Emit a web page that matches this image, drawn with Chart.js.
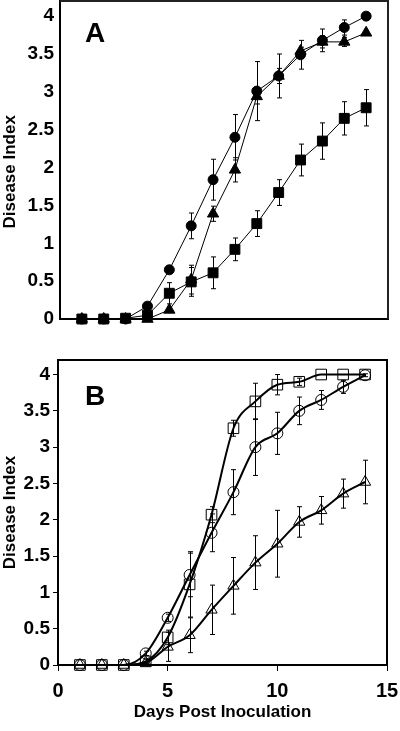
<!DOCTYPE html>
<html>
<head>
<meta charset="utf-8">
<script src="https://cdn.jsdelivr.net/npm/chart.js@4.4.1/dist/chart.umd.min.js"></script>
<style>
  html, body { margin: 0; padding: 0; background: #fff; }
  #wrapA { position: absolute; left: 0; top: 0; width: 400px; height: 340px; }
  #wrapB { position: absolute; left: 0; top: 340px; width: 400px; height: 391px; }
</style>
</head>
<body>
<div id="wrapA"><canvas id="chartA" width="400" height="340"></canvas></div>
<div id="wrapB"><canvas id="chartB" width="400" height="391"></canvas></div>
<script>
// Days post inoculation
const days = [1, 2, 3, 4, 5, 6, 7, 8, 9, 10, 11, 12, 13, 14];

// Panel A (filled symbols)
const aCircle      = [0, 0, 0, 0.17, 0.65, 1.23, 1.84, 2.40, 3.01, 3.21, 3.49, 3.68, 3.85, 4.00];
const aCircleErr   = [0, 0, 0, 0.05, 0.05, 0.17, 0.27, 0.30, 0.39, 0.29, 0.19, 0.15, 0.10, 0.03];
const aTriangle    = [0, 0, 0, 0, 0.12, 0.52, 1.39, 1.97, 2.94, 3.21, 3.54, 3.66, 3.66, 3.78];
const aTriangleErr = [0, 0, 0, 0, 0.03, 0.19, 0.10, 0.16, 0.10, 0.10, 0.05, 0.08, 0.06, 0.03];
const aSquare      = [0, 0, 0.01, 0.05, 0.34, 0.49, 0.61, 0.92, 1.26, 1.67, 2.10, 2.35, 2.65, 2.79];
const aSquareErr   = [0, 0, 0, 0.03, 0.14, 0.19, 0.21, 0.15, 0.17, 0.17, 0.21, 0.24, 0.22, 0.24];

// Panel B (open symbols)
const bSquare      = [0, 0, 0, 0.05, 0.38, 1.11, 2.07, 3.26, 3.63, 3.86, 3.90, 4.00, 4.00, 4.00];
const bSquareErr   = [0, 0, 0, 0.03, 0.10, 0.45, 0.11, 0.11, 0.25, 0.14, 0.05, 0, 0, 0];
const bCircle      = [0, 0, 0, 0.16, 0.65, 1.24, 1.82, 2.38, 3.00, 3.19, 3.50, 3.65, 3.83, 3.99];
const bCircleErr   = [0, 0, 0, 0.03, 0.05, 0.30, 0.26, 0.31, 0.39, 0.29, 0.19, 0.13, 0.09, 0.02];
const bTriangle    = [0, 0, 0, 0.03, 0.25, 0.41, 0.76, 1.09, 1.41, 1.67, 1.97, 2.13, 2.36, 2.52];
const bTriangleErr = [0, 0, 0, 0.02, 0.20, 0.24, 0.34, 0.39, 0.37, 0.46, 0.21, 0.19, 0.20, 0.30];

const xTicks = [0, 5, 10, 15];
const FONT = "'Liberation Sans', Arial, Helvetica, sans-serif";

Chart.defaults.font.family = FONT;
Chart.defaults.color = "#000";

const pts = arr => arr.map((v, i) => ({ x: days[i], y: v }));

// vertical error bars with small caps
const errorBars = {
    id: "errorBars",
    afterDatasetsDraw(chart){
        const { ctx, scales: { x, y } } = chart;
        ctx.save();
        ctx.strokeStyle = "#000";
        ctx.lineWidth = 1;
        chart.data.datasets.forEach(ds => {
            if(!ds.errors) return;
            ds.data.forEach((p, i) => {
                const e = ds.errors[i];
                if(!e) return;
                const px  = Math.round(x.getPixelForValue(p.x)) + 0.5;
                const top = y.getPixelForValue(p.y + e);
                const bot = y.getPixelForValue(p.y - e);
                ctx.beginPath();
                ctx.moveTo(px, top); ctx.lineTo(px, bot);
                ctx.moveTo(px - 2.5, top); ctx.lineTo(px + 2.5, top);
                ctx.moveTo(px - 2.5, bot); ctx.lineTo(px + 2.5, bot);
                ctx.stroke();
            });
        });
        ctx.restore();
    }
};

// top/right frame + panel letter
const frame = {
    id: "frame",
    afterDraw(chart, args, opts){
        const { ctx, chartArea: a } = chart;
        ctx.save();
        ctx.strokeStyle = opts.color || "#000";
        ctx.lineWidth = 2;
        ctx.beginPath();
        ctx.moveTo(a.left, a.top);
        ctx.lineTo(a.right, a.top);
        ctx.lineTo(a.right, a.bottom);
        ctx.stroke();
        ctx.fillStyle = "#000";
        ctx.font = `bold 28px ${FONT}`;
        ctx.textBaseline = "alphabetic";
        ctx.fillText(opts.letter, opts.lx, opts.ly);
        ctx.restore();
    }
};

function makeSet(data, errors, style, filled, width){
    return {
        data: pts(data),
        errors,
        borderColor: "#000",
        borderWidth: width,
        backgroundColor: filled ? "#000" : "rgba(0,0,0,0)",
        pointStyle: style.shape,
        pointRadius: style.r,
        pointBorderWidth: 1,
        pointBorderColor: "#000",
        pointBackgroundColor: filled ? "#000" : "rgba(0,0,0,0)",
        showLine: true,
        fill: false,
        clip: 8,
        tension: filled ? 0 : 0.2,
        cubicInterpolationMode: filled ? "default" : "monotone"
    };
}

const tickFont  = { size: 19, weight: "bold" };
const titleFont = { size: 17, weight: "bold" };

function yScale(width, tickLen, titleText){
    return {
        type: "linear",
        min: 0, max: 4.2,
        ticks: {
            stepSize: 0.5,
            includeBounds: false,
            font: tickFont,
            color: "#000",
            padding: tickLen ? 3 : 6,
            callback: v => String(v)
        },
        grid: { drawOnChartArea: false, drawTicks: tickLen > 0, tickLength: tickLen, color: "#000" },
        border: { display: true, color: "#000", width: 2 },
        title: { display: true, text: titleText, font: titleFont, color: "#000", padding: { top: 0, bottom: 0 } },
        afterFit(s){
            s.width = width;
            s.paddingTop = 0;
            s.paddingBottom = 0;
        }
    };
}

// Panel A
new Chart(document.getElementById("chartA"), {
    type: "scatter",
    data: {
        datasets: [
            makeSet(aSquare,   aSquareErr,   { shape: "rect",     r: 7   }, true, 1),
            makeSet(aTriangle, aTriangleErr, { shape: "triangle", r: 6.5 }, true, 1),
            makeSet(aCircle,   aCircleErr,   { shape: "circle",   r: 5   }, true, 1)
        ]
    },
    options: {
        responsive: false,
        animation: false,
        devicePixelRatio: 1,
        layout: { autoPadding: false, padding: { top: 1, right: 12, left: 0, bottom: 0 } },
        plugins: {
            legend: { display: false },
            tooltip: { enabled: false },
            frame: { letter: "A", lx: 85, ly: 42, color: "#222" }
        },
        scales: {
            x: {
                type: "linear",
                min: 0, max: 15,
                ticks: { display: false },
                grid: { display: false },
                border: { display: true, color: "#000", width: 2 },
                afterFit(s){
                    s.height = 21;
                    s.paddingLeft = 0;
                    s.paddingRight = 0;
                }
            },
            // trailing spaces nudge the title down like in the original
            y: yScale(60, 0, "Disease Index     ")
        }
    },
    plugins: [errorBars, frame]
});

// Panel B
new Chart(document.getElementById("chartB"), {
    type: "scatter",
    data: {
        datasets: [
            makeSet(bTriangle, bTriangleErr, { shape: "triangle", r: 6.5 }, false, 2),
            makeSet(bCircle,   bCircleErr,   { shape: "circle",   r: 5.5 }, false, 2),
            makeSet(bSquare,   bSquareErr,   { shape: "rect",     r: 7.5 }, false, 2)
        ]
    },
    options: {
        responsive: false,
        animation: false,
        devicePixelRatio: 1,
        layout: { autoPadding: false, padding: { top: 20, right: 13, left: 0, bottom: 0 } },
        plugins: {
            legend: { display: false },
            tooltip: { enabled: false },
            frame: { letter: "B", lx: 85, ly: 65, color: "#000" }
        },
        scales: {
            x: {
                type: "linear",
                min: 0, max: 15,
                afterBuildTicks(s){ s.ticks = xTicks.map(v => ({ value: v })); },
                ticks: { font: { size: 20, weight: "bold" }, color: "#000", padding: 8 },
                grid: { drawOnChartArea: false, drawTicks: true, tickLength: 6, color: "#000" },
                border: { display: true, color: "#000", width: 2 },
                title: { display: true, text: "Days Post Inoculation", font: titleFont, color: "#000", padding: { top: 0, bottom: 8 } },
                afterFit(s){
                    s.height = 66;
                    s.paddingLeft = 0;
                    s.paddingRight = 0;
                }
            },
            y: yScale(58, 5, "Disease Index")
        }
    },
    plugins: [errorBars, frame]
});
</script>
</body>
</html>
